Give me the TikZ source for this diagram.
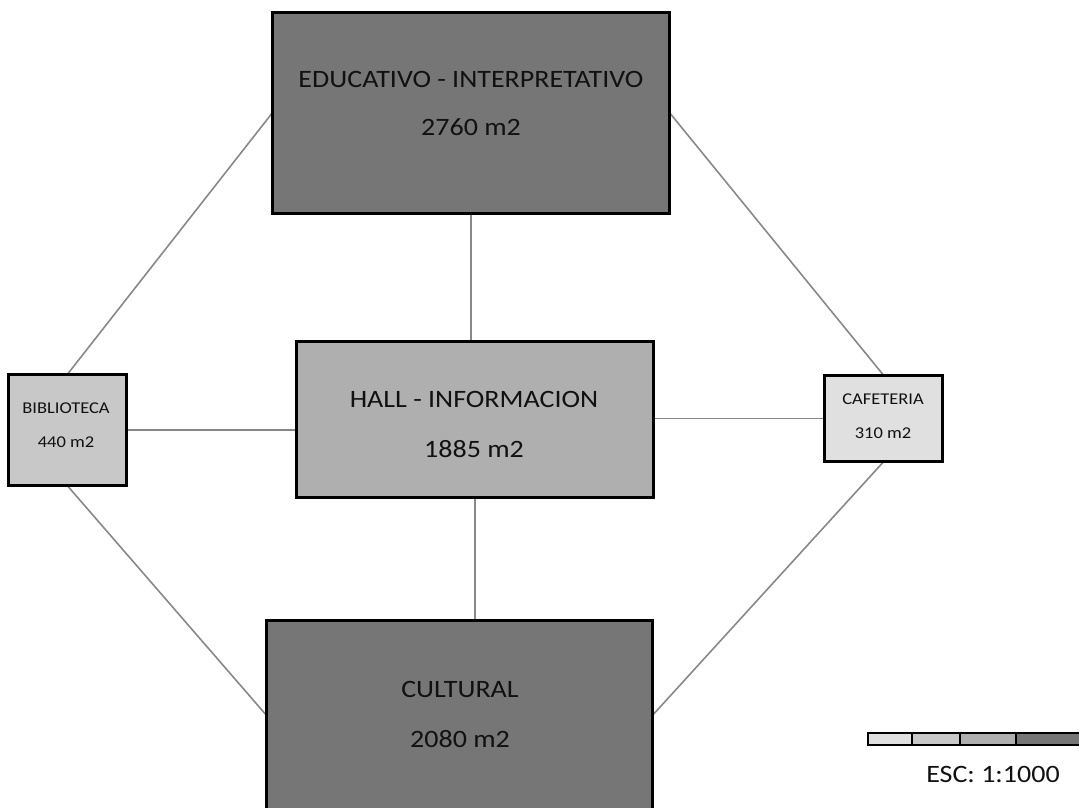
\documentclass[tikz,border=0pt]{standalone}
\usepackage{fontspec}
\setmainfont[FakeStretch=1.12]{Carlito}
\definecolor{darkbox}{HTML}{767676}
\definecolor{midbox}{HTML}{AFAFAF}
\definecolor{bibbox}{HTML}{C8C8C8}
\definecolor{cafbox}{HTML}{E0E0E0}
\definecolor{linkgray}{HTML}{888888}
\definecolor{txt}{HTML}{111111}
\tikzset{
  box/.style={draw=black, line width=1.6pt, inner sep=0pt},
  big/.style={font=\fontsize{25}{29}\selectfont, text=txt, anchor=base, inner sep=0pt},
  small/.style={font=\fontsize{16.5}{19}\selectfont, text=txt, anchor=base, inner sep=0pt},
  link/.style={draw=linkgray, line width=1.6pt},
  seg/.style={draw=black, line width=1.4pt}
}
\begin{document}
\begin{tikzpicture}[x=1pt,y=-1pt]
\useasboundingbox (0,0) rectangle (1079,807);
\clip (0,0) rectangle (1079,807);
% boxes
\node[box, fill=darkbox, minimum width=396pt, minimum height=200pt] (edu) at (471,113) {};
\node[box, fill=midbox, minimum width=356pt, minimum height=155pt] (hall) at (475,419.5) {};
\node[box, fill=bibbox, minimum width=117pt, minimum height=110pt] (bib) at (67.5,430) {};
\node[box, fill=cafbox, minimum width=117pt, minimum height=85pt] (caf) at (883.5,418.5) {};
\node[box, fill=darkbox, minimum width=385pt, minimum height=188pt] (cul) at (459.5,715) {};
% connectors
\draw[link] (edu.west) -- (bib.north);
\draw[link] (edu.east) -- (caf.north);
\draw[link] (edu.south) -- (edu.south |- hall.north);
\draw[link] (bib.east |- 0,430) coordinate (bibE) -- (bibE -| hall.west);
\draw[link] (caf.west) -- (caf.west -| hall.east);
\draw[link] (hall.south) -- (hall.south |- cul.north);
\draw[link] (bib.south) -- (cul.west);
\draw[link] (caf.south) -- (cul.east);
% redraw box borders over connectors
\foreach \n in {edu,hall,bib,caf,cul}{\draw[black, line width=1.6pt] (\n.north west) rectangle (\n.south east);}
% labels
\node[big] (edut) at (471,87) {EDUCATIVO - INTERPRETATIVO};
\node[big] (edua) at (471,135) {2760 m2};
\node[big] (hallt) at (474,407) {HALL - INFORMACION};
\node[big] (halla) at (474,457) {1885 m2};
\node[big] (cult) at (460,697) {CULTURAL};
\node[big] (cula) at (460,747) {2080 m2};
\node[small] (bibt) at (66,413) {BIBLIOTECA};
\node[small] (biba) at (66,447) {440 m2};
\node[small] (caft) at (883,404) {CAFETERIA};
\node[small] (cafa) at (883,438) {310 m2};
% scale bar
\draw[seg, fill=cafbox] (868,733) rectangle (912,745);
\draw[seg, fill=bibbox] (912,733) rectangle (960,745);
\draw[seg, fill=midbox] (960,733) rectangle (1016,745);
\draw[seg, fill=darkbox] (1016,733) rectangle (1085,745);
\node[big] (esc) at (993,782) {ESC: 1:1000};
\end{tikzpicture}
\end{document}
